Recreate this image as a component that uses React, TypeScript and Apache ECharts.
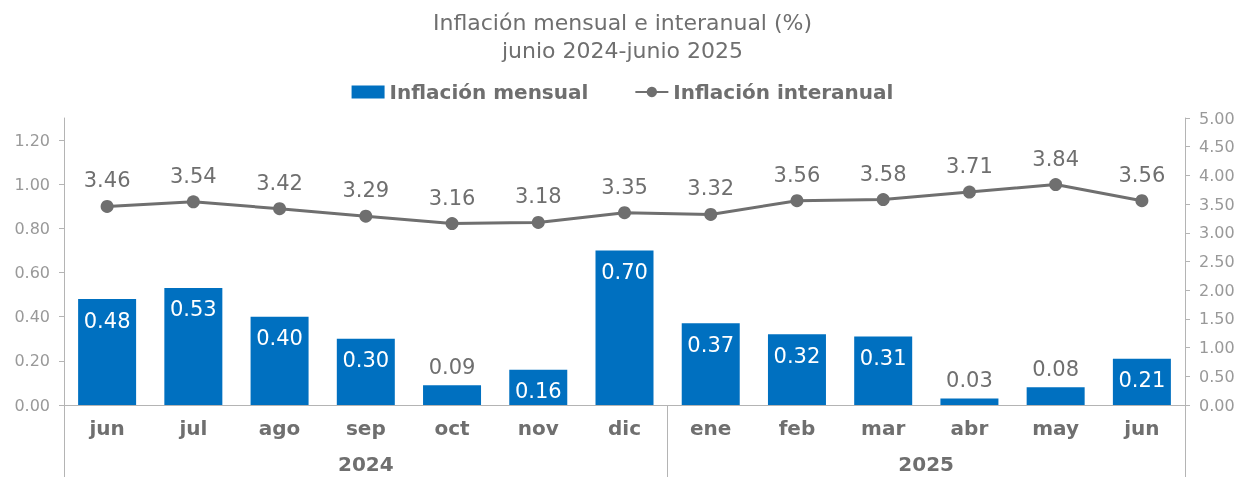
import React, { useEffect, useRef } from "react";
import * as echarts from "echarts";

const months = ["jun", "jul", "ago", "sep", "oct", "nov", "dic", "ene", "feb", "mar", "abr", "may", "jun"];
const yearLabels = ["2024", "2025"];
const mensual = [0.48, 0.53, 0.4, 0.3, 0.09, 0.16, 0.7, 0.37, 0.32, 0.31, 0.03, 0.08, 0.21];
const interanual = [3.46, 3.54, 3.42, 3.29, 3.16, 3.18, 3.35, 3.32, 3.56, 3.58, 3.71, 3.84, 3.56];

const FONT = "'DejaVu Sans', sans-serif";
const GRAY = "#6f6f6f";
const LIGHT = "#999999";
const AXIS = "#b4b4b4";
const BLUE = "#0070C0";

export default function App() {
  const ref = useRef<HTMLDivElement>(null);
  useEffect(() => {
    if (!ref.current) return;
    const chart = echarts.init(ref.current, null, { renderer: "svg" });
    const barData = mensual.map((v) =>
      v < 0.1
        ? { value: v, label: { position: "top", color: GRAY, distance: 8 } }
        : { value: v }
    );
    chart.setOption({
      animation: false,
      textStyle: { fontFamily: FONT },
      title: {
        text: "Inflación mensual e interanual (%)\njunio 2024-junio 2025",
        left: "center",
        top: 3,
        textStyle: { fontFamily: FONT, fontSize: 22, fontWeight: "normal", color: GRAY, lineHeight: 28 },
      },
      legend: {
        top: 77,
        left: "center",
        itemGap: 46,
        itemWidth: 33,
        itemHeight: 13,
        textStyle: { fontFamily: FONT, fontSize: 20, fontWeight: "bold", color: GRAY },
        data: [
          { name: "Inflación mensual", icon: "rect" },
          { name: "Inflación interanual" },
        ],
      },
      grid: { left: 64, right: 60, top: 118, bottom: 72, containLabel: false },
      xAxis: [
        {
          type: "category",
          data: months,
          axisLine: { lineStyle: { color: AXIS, width: 1 } },
          axisTick: { show: false },
          axisLabel: { fontFamily: FONT, fontSize: 20, fontWeight: "bold", color: GRAY, margin: 13 },
        },
        {
          type: "category",
          data: months,
          position: "bottom",
          axisLine: { show: false },
          axisTick: {
            show: true,
            length: 72,
            lineStyle: { color: AXIS },
            interval: (i: number) => i === 0 || i === 7,
          },
          axisLabel: {
            interval: 0,
            margin: 49,
            fontFamily: FONT,
            fontSize: 20,
            fontWeight: "bold",
            color: GRAY,
            formatter: (_v: string, i: number) =>
              i === 3 ? yearLabels[0] : i === 9 ? "{s|" + yearLabels[1] + "}" : "",
            rich: {
              s: { padding: [0, 0, 0, 86], fontFamily: FONT, fontSize: 20, fontWeight: "bold", color: GRAY },
            },
          },
        },
      ],
      yAxis: [
        {
          type: "value",
          min: 0,
          max: 1.3,
          interval: 0.2,
          axisLine: { show: true, lineStyle: { color: AXIS } },
          axisTick: { show: true, length: 5, lineStyle: { color: AXIS } },
          splitLine: { show: false },
          axisLabel: {
            showMaxLabel: false,
            margin: 14,
            fontFamily: FONT,
            fontSize: 16,
            color: LIGHT,
            formatter: (v: number) => (v > 1.25 ? "" : v.toFixed(2)),
          },
        },
        {
          type: "value",
          min: 0,
          max: 5,
          interval: 0.5,
          position: "right",
          axisLine: { show: true, lineStyle: { color: AXIS } },
          axisTick: { show: true, length: 5, lineStyle: { color: AXIS } },
          splitLine: { show: false },
          axisLabel: {
            margin: 14,
            fontFamily: FONT,
            fontSize: 16,
            color: LIGHT,
            formatter: (v: number) => v.toFixed(2),
          },
        },
      ],
      series: [
        {
          name: "Inflación mensual",
          type: "bar",
          data: barData,
          barWidth: 58,
          itemStyle: { color: BLUE },
          label: {
            show: true,
            position: "insideTop",
            distance: 11,
            color: "#ffffff",
            fontFamily: FONT,
            fontSize: 21,
            fontWeight: "normal",
            formatter: (p: any) => Number(p.value).toFixed(2),
          },
        },
        {
          name: "Inflación interanual",
          type: "line",
          yAxisIndex: 1,
          data: interanual,
          symbol: "circle",
          symbolSize: 13,
          lineStyle: { color: GRAY, width: 3 },
          itemStyle: { color: GRAY },
          label: {
            show: true,
            position: "top",
            distance: 9,
            color: GRAY,
            fontFamily: FONT,
            fontSize: 21,
            fontWeight: "normal",
            formatter: (p: any) => Number(p.value).toFixed(2),
          },
        },
      ],
    });
    return () => chart.dispose();
  }, []);
  return <div ref={ref} style={{ position: "fixed", left: 0, top: 0, width: 1245, height: 477 }} />;
}
